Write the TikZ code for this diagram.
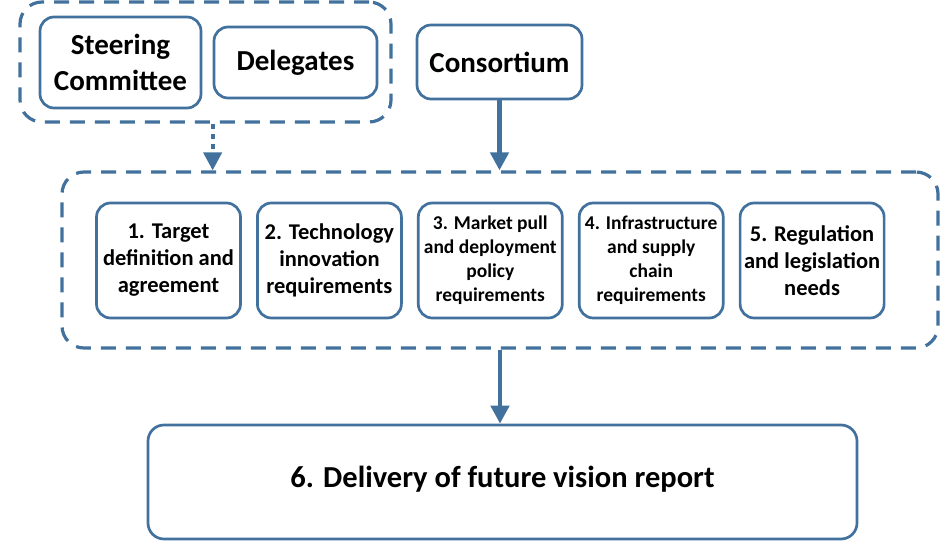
\documentclass[tikz,border=0pt]{standalone}
\usepackage{fontspec}
\setmainfont{Carlito}
\usetikzlibrary{positioning, arrows.meta}
\definecolor{lineblue}{HTML}{41719C}

\begin{document}
\begin{tikzpicture}[
    x=1pt, y=-1pt,
    node distance=0pt and 14.2pt,
    box/.style={rectangle, draw=lineblue, line width=2.7pt, rounded corners=14pt,
                fill=white, align=center, inner sep=0pt, text=black},
    topbox/.style={box, font=\fontsize{29}{36}\selectfont\bfseries},
    stagebox/.style={box, minimum width=144pt, minimum height=115pt,
                     font=\fontsize{22.5}{27}\selectfont\bfseries},
    smallstage/.style={stagebox, font=\fontsize{19.5}{24}\selectfont\bfseries},
    group/.style={rectangle, draw=lineblue, line width=3.2pt,
                  dash pattern=on 15pt off 10pt, rounded corners=22pt},
    arrow/.style={-{Triangle[length=18pt, width=18pt]}, line width=4.5pt, draw=lineblue},
    dotarrow/.style={arrow, line width=4pt, dash pattern=on 5pt off 5pt}
  ]
    \useasboundingbox (0,0) rectangle (940,543);

    % top row
    \node[group, minimum width=371pt, minimum height=120pt] (topgroup) at (205.5,62) {};
    \node[topbox, minimum width=161pt, minimum height=91pt] (steer) at (120.5,62.5)
          {Steering\\Committee};
    \node[topbox, minimum width=163pt, minimum height=71pt] (deleg) at (295.5,62.5)
          {Delegates};
    \node[topbox, minimum width=165pt, minimum height=74pt] (consort) at (499.5,62)
          {Consortium};

    % five work streams
    \node[group, minimum width=876pt, minimum height=176pt] (midgroup) at (500,260) {};
    \node[stagebox] (target) at (168.5,260.5) {1. Target\\definition and\\agreement};
    \node[stagebox, right=of target] (techno) {2. Technology\\innovation\\requirements};
    \node[smallstage, right=of techno] (market)
          {3. Market pull\\and deployment\\policy\\requirements};
    \node[smallstage, right=of market] (infra)
          {4. Infrastructure\\and supply\\chain\\requirements};
    \node[stagebox, right=of infra] (regul) {5. Regulation\\and legislation\\needs};

    % final report
    \node[box, minimum width=709pt, minimum height=114pt, rounded corners=16pt,
          font=\fontsize{30.5}{36}\selectfont\bfseries] (report) at (502.5,482)
          {\raisebox{-5pt}[0pt][0pt]{6. Delivery of future vision report}};

    \draw[dotarrow] (topgroup.south -| deleg.west) -- (midgroup.north -| deleg.west);
    \draw[arrow] (consort.south) -- (consort.south |- midgroup.north);
    \draw[arrow] (midgroup.south) -- (midgroup.south |- report.north);
  \end{tikzpicture}
\end{document}
